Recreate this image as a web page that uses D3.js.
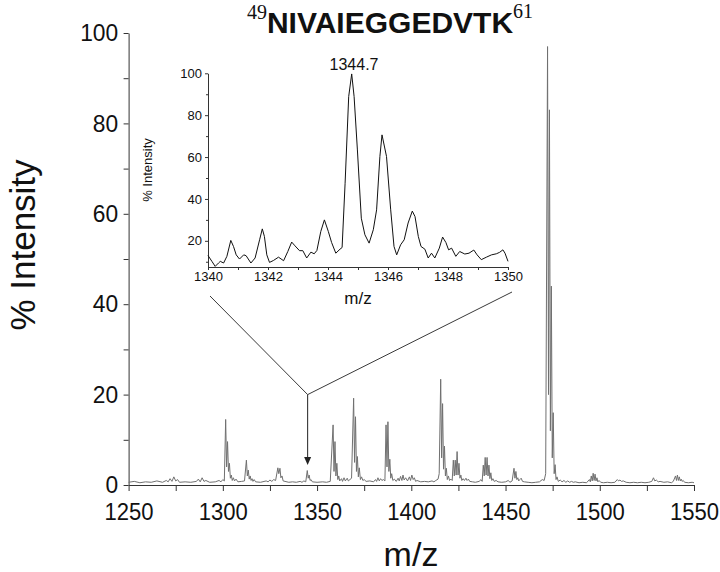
<!DOCTYPE html>
<html><head><meta charset="utf-8">
<script src="https://cdn.jsdelivr.net/npm/d3@7"></script>
<style>
body{margin:0;background:#fff;}
svg{display:block;font-family:"Liberation Sans",Arial,sans-serif;}
</style></head>
<body><svg id="c" width="720" height="572"></svg>
<script>
// ---------- DATA ----------
const mainTicksX = [1250,1300,1350,1400,1450,1500,1550];
const mainTicksY = [0,20,40,60,80,100];
const insetTicksX = [1340,1342,1344,1346,1348,1350];
const insetTicksY = [20,40,60,80,100];
const titleStart = "49";
const titleSeq = "NIVAIEGGEDVTK";
const titleEnd = "61";
const peakLabel = "1344.7";
const peakLabelPos = [1344.8, 100];
const zoomTarget = [1345, 20];
const arrowTip = [1345, 4.4];

// main spectrum [m/z, % intensity]
const spectrumMz = [
1250,1253,1256,1259,1262,1265,1268,1270,1271,1272,1273,1274,1275,1276,1277,1280,1283,1286,1287,1288,1289,1290,1291,1293,1296,1298,1299,1300,1300.8,
1301.5,1302,1302.5,1303,1303.5,1304,1304.5,1305,1305.6,1306.2,1307,1308,1310,1311.5,
1312.5,1313,1313.5,1314,1314.5,1315,1315.5,1316,1316.6,1317.4,1320,1323,1324,1325,1326,1327,1328,1329.2,1329.7,1330.3,1330.8,1331.4,1332,1333,1335,1337,1339,1341,1342,1343,1344,1344.8,1345.3,1345.8,1346.3,1346.8,1347.5,1350,1353,1355,1357,
1358.5,1359,1359.5,1360,1360.5,1361,1361.5,1362,1363,1363.5,1364.3,1365,1366,1366.6,1367.4,1368.3,
1369.4,1369.9,1370.4,1370.9,1371.4,1371.9,1372.4,1373,1373.6,1374.3,1375,1376,1378,1380,1381,1381.6,1382.3,1383,1383.7,1384.4,1385.2,1386,
1386.6,1387.1,1387.6,1388.1,1388.6,1389.1,1389.6,1390.2,1391,1392,1393,1393.6,1394.3,1395,1395.6,1396.2,1397,1398,1399,1399.6,1400.3,1401,1401.6,1402.3,1403,1405,1407,1409,1411,1412,1413,1414.2,1414.8,
1415.6,1416.1,1416.6,1417.1,1417.6,1418.1,1418.6,1419.1,1419.7,1420.3,1421,1421.7,
1422.3,1422.8,1423.3,1423.8,1424.3,1424.8,1425.3,1425.8,1426.3,1426.8,1427.5,1428.2,1429,1429.6,1430.3,1431,1432.5,1434,1436,
1437,1437.6,1438.2,1438.7,1439.2,1439.7,1440.2,1440.7,1441.2,1441.7,1442.2,1442.7,1443.3,1444,1445,1446,1448,1450,1451.5,1452.3,1453.5,
1454.5,1455,1455.5,1456,1456.5,1457,1457.6,1458.3,1459,1460,1462,1464,1466,1468,1469.5,1470.5,1471.3,
1472.3,1472.8,1473.3,1473.8,1474.3,1474.8,1475.3,1475.8,1476.3,1476.8,1477.3,1478,1479,1480,1481,1482,1483,1484,1485,1486,1487,1489,1491,1493,1494.5,1495,
1495.5,1496,1496.5,1497,1497.5,1498,1498.5,1499,1499.6,1500.5,1502,1504,1506,1508,1509.3,1510,1510.7,1511.5,1512.5,1514,1516,1518,1520,1522,1524,1526,1527.6,1528.5,1529.2,1530,1531,1532,1534,1536,1538,1539,
1540.2,1540.7,1541.2,1541.7,1542.2,1542.7,1543.2,1543.7,1544.3,1545,1547,1549,1550
];
const spectrumInt = [
0.6,0.8,0.5,0.7,0.6,0.9,0.6,1.0,0.7,1.4,0.8,1.8,0.9,1.2,0.6,0.7,0.6,0.8,1.3,0.7,1.6,0.8,1.0,0.6,0.7,1.0,0.7,1.2,0.9,
14.5,4,9.6,3,4.8,1.5,2.2,1,1.6,0.9,1.3,0.7,0.8,0.9,
5.5,2,3.3,1.3,2,1,1.4,0.8,1.2,0.7,0.6,0.9,0.7,1.1,0.8,1.2,1.0,3.8,2.5,3.7,1.6,2.0,0.9,0.8,0.6,0.7,0.6,0.8,0.6,0.9,0.7,3.2,1.5,2.2,1.0,1.2,0.7,0.6,0.7,0.6,0.8,
13.3,3,9.6,2,4.8,1.2,2,0.9,1.4,0.8,1.6,0.9,1.5,0.9,1.2,1.5,
19.2,5,15.1,3,6.3,1.8,3.8,1.2,1.8,1,1.2,0.8,0.9,0.7,1.2,0.8,1.6,0.9,1.4,1.0,1.2,0.9,
13.3,4,14,3,5.7,1.5,2.5,1,1.3,0.8,1.5,0.9,1.9,1.0,2.2,1.1,1.6,0.9,1.8,1,2.2,1.2,1.6,0.8,1.0,0.7,0.8,0.7,0.9,0.7,1.0,1.3,2.5,
23.4,6,18,3.5,8.6,2,3.7,1.2,2,1,1.3,1.0,
5.5,2,5.5,2.2,7.4,2.2,4.8,1.5,2.2,1.0,1.4,1.0,1.5,1.0,1.3,0.8,0.7,0.6,0.8,
1.2,0.8,4.4,2,6.1,2.2,6.1,2,4.4,1.4,2.7,1.0,1.4,0.8,1.0,0.7,0.6,0.7,1.0,0.6,0.9,
3.7,1.5,3,1.2,1.6,0.9,1.2,1.5,0.8,0.7,0.6,0.5,0.6,0.7,1.2,1.0,2.5,
97,20,83,12,44,6,16,2.5,4.5,1.2,1.8,0.8,1.1,0.7,1.0,0.6,0.9,0.6,0.8,0.6,0.7,0.5,0.6,0.5,1.2,0.7,
2.0,0.9,2.6,1.0,2.4,0.9,1.6,0.7,1.0,0.6,0.5,0.6,0.5,0.6,1.2,0.9,1.1,0.8,0.9,0.6,0.5,0.6,0.5,0.6,0.5,0.6,0.8,1.6,0.9,1.1,0.7,0.8,0.6,0.7,0.5,0.8,
2.0,1.0,2.2,1.0,1.8,0.9,1.3,0.8,1.0,0.6,0.5,0.6,0.5
];

// inset spectrum [m/z, % intensity]
const insetMz = [
1340.0,1340.13,1340.24,1340.35,1340.41,1340.52,1340.63,1340.76,1340.85,1340.94,1341.05,1341.19,1341.27,1341.43,1341.57,1341.72,1341.81,1341.88,1341.96,
1342.05,1342.18,1342.35,1342.52,1342.66,1342.79,1342.9,1343.05,1343.16,1343.29,1343.43,1343.54,1343.63,1343.76,1343.88,
1344.01,1344.12,1344.26,1344.4,1344.47,1344.57,1344.69,1344.79,1344.87,1344.98,1345.11,1345.23,1345.37,1345.51,1345.62,1345.73,1345.8,1345.95,
1346.09,1346.2,1346.29,1346.42,1346.54,1346.67,1346.81,1346.9,1347.01,1347.1,1347.23,1347.34,1347.45,1347.56,1347.71,1347.82,1347.93,
1348.02,1348.12,1348.26,1348.39,1348.56,1348.7,1348.86,1348.97,1349.11,1349.28,1349.45,1349.61,1349.72,1349.83,1349.9,1350.0
];
const insetInt = [
13,10.2,7.8,9.4,10.2,9.4,12.6,20.2,17.3,13.3,11.3,13.3,12.9,9.4,11.8,20.5,25.7,22.1,13.3,
9.7,10.6,12.2,10.5,14.9,19.4,17.6,15.3,15.3,11.8,14.6,13.8,15.4,24.5,30,
24.5,19.2,14.1,16.0,16.8,47.5,88.9,99.7,88.9,63.4,30.8,22.9,18.9,25.3,34.8,60.3,70.6,60.3,
34.8,17.3,13.3,18.1,20.5,28.5,34.2,31.6,22.1,17.3,16.0,11.8,14.1,11.8,16.5,21.8,19.2,
15.7,16.5,12.6,14.9,13.7,14.1,15.6,13.3,11.0,12.2,13.3,13.8,14.5,15.7,14.1,10.2
];

// ---------- DRAW ----------
const svg = d3.select("#c");
const FONT = '"Liberation Sans",Arial,sans-serif';

const x = d3.scaleLinear().domain([1250,1550]).range([128.6,694]);
const y = d3.scaleLinear().domain([0,100]).range([485,33]);

const axisCol = "#333";
function styleAxis(g, fs, tr){
  g.select(".domain").attr("stroke",axisCol).attr("stroke-width",1);
  g.selectAll(".tick line").attr("stroke",axisCol);
  const tt = g.selectAll(".tick text").attr("fill","#111").attr("font-size",fs).attr("font-family",FONT);
  if (tr) tt.attr("transform", tr);
}

// main minor ticks
svg.append("g").attr("transform","translate(0,485)")
  .call(d3.axisBottom(x).tickValues(d3.range(1275,1550,50)).tickSize(6).tickFormat(""))
  .call(g=>{g.select(".domain").remove();g.selectAll("line").attr("stroke",axisCol);});
svg.append("g").attr("transform","translate(128.6,0)")
  .call(d3.axisLeft(y).tickValues(d3.range(10,100,20)).tickSize(5).tickFormat(""))
  .call(g=>{g.select(".domain").remove();g.selectAll("line").attr("stroke",axisCol);});

// main axes
const gx = svg.append("g").attr("transform","translate(0,485)")
  .call(d3.axisBottom(x).tickValues(mainTicksX).tickSize(6).tickSizeOuter(0).tickPadding(12).tickFormat(d3.format("d")));
styleAxis(gx, 24, "scale(0.92,1.0)");
const gy = svg.append("g").attr("transform","translate(128.6,0)")
  .call(d3.axisLeft(y).tickValues(mainTicksY).tickSize(5).tickSizeOuter(0).tickPadding(6).tickFormat(d3.format("d")));
styleAxis(gy, 24, "scale(0.95,1)");

// main spectrum
const lineMain = d3.line().x((d,i)=>x(spectrumMz[i])).y((d,i)=>y(spectrumInt[i]));
svg.append("path").datum(spectrumMz).attr("d",lineMain)
  .attr("fill","none").attr("stroke","#707070").attr("stroke-width",1).attr("stroke-linejoin","round");

// axis labels
svg.append("text").attr("transform","translate(35,245) rotate(-90)")
  .attr("text-anchor","middle").attr("font-size",35).attr("fill","#111").attr("font-family",FONT)
  .text("% Intensity");
svg.append("text").attr("x",411).attr("y",566)
  .attr("text-anchor","middle").attr("font-size",34).attr("fill","#111").attr("font-family",FONT)
  .text("m/z");

// title
const t = svg.append("text").attr("x",390).attr("y",33).attr("text-anchor","middle").attr("fill","#111");
t.append("tspan").attr("font-family",'"Liberation Serif","Times New Roman",serif').attr("font-size",20).attr("dy",-14).text(titleStart);
t.append("tspan").attr("font-family",FONT).attr("font-weight","bold").attr("font-size",30).attr("dy",14).text(titleSeq);
t.append("tspan").attr("font-family",'"Liberation Serif","Times New Roman",serif').attr("font-size",20).attr("dy",-15).text(titleEnd);

// ---------- INSET ----------
const ix = d3.scaleLinear().domain([1340,1350]).range([208,508]);
const iy = d3.scaleLinear().domain([7.5,100]).range([267,73.3]);

svg.append("g").attr("transform","translate(0,267)")
  .call(d3.axisBottom(ix).tickValues(d3.range(1341,1350,2)).tickSize(3).tickFormat(""))
  .call(g=>{g.select(".domain").remove();g.selectAll("line").attr("stroke",axisCol);});
svg.append("g").attr("transform","translate(208,0)")
  .call(d3.axisLeft(iy).tickValues(d3.range(10,100,10).filter(v=>v%20!==0)).tickSize(2).tickFormat(""))
  .call(g=>{g.select(".domain").remove();g.selectAll("line").attr("stroke",axisCol);});

const igx = svg.append("g").attr("transform","translate(0,267)")
  .call(d3.axisBottom(ix).tickValues(insetTicksX).tickSize(3).tickSizeOuter(0).tickPadding(2).tickFormat(d3.format("d")));
styleAxis(igx, 13);
const igy = svg.append("g").attr("transform","translate(208,0)")
  .call(d3.axisLeft(iy).tickValues(insetTicksY).tickSize(3).tickSizeOuter(0).tickPadding(3).tickFormat(d3.format("d")));
styleAxis(igy, 13);

const lineInset = d3.line().x((d,i)=>ix(insetMz[i])).y((d,i)=>iy(insetInt[i]));
svg.append("path").datum(insetMz).attr("d",lineInset)
  .attr("fill","none").attr("stroke","#111").attr("stroke-width",1).attr("stroke-linejoin","round");

svg.append("text").attr("x",ix(peakLabelPos[0])+2).attr("y",iy(peakLabelPos[1])-3)
  .attr("text-anchor","middle").attr("font-size",16).attr("fill","#111").attr("font-family",FONT).text(peakLabel);
svg.append("text").attr("transform","translate(152,170) rotate(-90)")
  .attr("text-anchor","middle").attr("font-size",13).attr("fill","#111").attr("font-family",FONT).text("% Intensity");
svg.append("text").attr("x",358).attr("y",304)
  .attr("text-anchor","middle").attr("font-size",17).attr("fill","#111").attr("font-family",FONT).text("m/z");

// zoom lines + arrow
const tx = x(zoomTarget[0]), ty = y(zoomTarget[1]);
svg.append("line").attr("x1",ix(1340)+2).attr("y1",296).attr("x2",tx).attr("y2",ty).attr("stroke","#222").attr("stroke-width",0.9);
svg.append("line").attr("x1",ix(1350)+4).attr("y1",292).attr("x2",tx).attr("y2",ty).attr("stroke","#222").attr("stroke-width",0.9);
const tipY = y(arrowTip[1]);
svg.append("line").attr("x1",tx).attr("y1",ty).attr("x2",tx).attr("y2",tipY-7).attr("stroke","#222").attr("stroke-width",1);
svg.append("path").attr("d",`M${tx-3.5},${tipY-8} L${tx+3.5},${tipY-8} L${tx},${tipY} Z`).attr("fill","#222");
</script>
</body></html>
